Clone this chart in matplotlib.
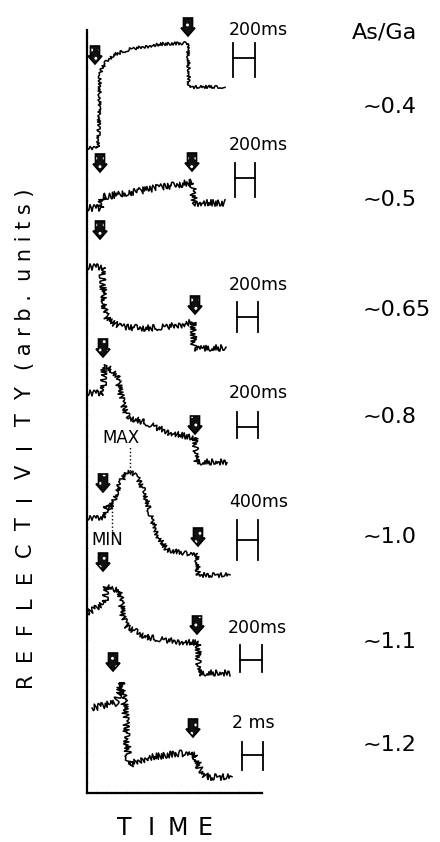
import matplotlib.pyplot as plt
from matplotlib.patches import Polygon

W, H = 440, 842

# As/Ga ratio for each trace, top to bottom
as_ga = ['~0.4', '~0.5', '~0.65', '~0.8', '~1.0', '~1.1', '~1.2']
scale_labels = ['200ms', '200ms', '200ms', '200ms', '400ms', '200ms', '2 ms']

# traces: time (arb.) vs reflectivity (arb., stacked)
t1 = [0, 11, 12, 13, 15, 19, 26, 43, 63, 76, 101, 102, 138]
r1 = [645, 645, 673, 718, 725, 731, 738, 744, 747, 749, 750, 706, 706]
t2 = [0, 14, 15, 106, 107, 138]
r2 = [585, 585, 596, 611, 590, 590]
t3 = [0, 15, 16, 18, 21, 33, 63, 93, 106, 107, 139]
r3 = [526, 526, 508, 481, 473, 466, 465, 468, 471, 445, 445]
t4 = [0, 16, 17, 20, 30, 36, 41, 60, 83, 108, 110, 140]
r4 = [400, 400, 425, 427, 418, 388, 376, 370, 360, 355, 331, 331]
t5 = [0, 18, 19, 23, 28, 33, 40, 43, 50, 58, 63, 71, 80, 110, 111, 143]
r5 = [275, 275, 288, 285, 295, 311, 320, 321, 316, 300, 280, 256, 243, 238, 218, 218]
t6 = [0, 18, 19, 24, 33, 36, 40, 60, 93, 111, 112, 143]
r6 = [180, 190, 206, 204, 203, 176, 166, 156, 151, 150, 120, 120]
t7 = [5, 28, 31, 35, 38, 40, 42, 46, 60, 93, 108, 113, 120, 145]
r7 = [85, 90, 96, 111, 86, 53, 28, 30, 35, 40, 38, 23, 16, 16]

times = [t1, t2, t3, t4, t5, t6, t7]
refl = [r1, r2, r3, r4, r5, r6, r7]

# light on / light off arrows (tip position)
arrows_on = [(8, 729), (13, 621), (13, 554), (16, 436), (16, 301), (16, 222), (26, 122)]
arrows_off = [(101, 757), (105, 622), (108, 479), (108, 359), (111, 247), (110, 159), (106, 56)]

# time scale bars: x0, x1, bottom, top, bar height
bars = [(146, 168, 716, 750, 735), (148, 168, 596, 630, 615), (150, 171, 461, 491, 476),
        (150, 171, 355, 381, 366), (150, 171, 233, 273, 253), (153, 175, 121, 148, 133),
        (155, 176, 23, 51, 38)]
label_pos = [(171, 763), (171, 648), (171, 508), (171, 400), (172, 291), (170, 165), (166, 70)]
ratio_y = [686, 593, 483, 376, 256, 151, 48]
noise = [1.6, 3.4, 3.2, 3.0, 2.4, 3.0, 3.4]

plt.rcParams['hatch.linewidth'] = 0.9

fig = plt.figure(figsize=(W / 100, H / 100), dpi=100)
ax = fig.add_axes([87 / W, 49 / H, 175 / W, 763 / H])
ax.set_xlim(0, 175)
ax.set_ylim(0, 763)
for s in ['top', 'right']:
    ax.spines[s].set_visible(False)
for s in ['left', 'bottom']:
    ax.spines[s].set_linewidth(1.6)
    ax.spines[s].set_linestyle((0, (4, 0.6)))
ax.set_xticks([])
ax.set_yticks([])

for t, r, n in zip(times, refl, noise):
    ln, = ax.plot(t, r, color='black', lw=1.1)
    ln.set_sketch_params(scale=n, length=1.2, randomness=5)


def arrow(x, y):
    shape = [(0, 0), (-7, 8), (-4.5, 8), (-4.5, 18), (4.5, 18), (4.5, 8), (7, 8)]
    pts = [(x + dx, y + dy) for dx, dy in shape]
    ax.add_patch(Polygon(pts, closed=True, fc='#111111', ec='white', hatch='..', lw=0, clip_on=False))
    ax.add_patch(Polygon(pts, closed=True, fill=False, ec='black', lw=1.2, clip_on=False))


for x, y in arrows_on + arrows_off:
    arrow(x, y)

for (x0, x1, lo, hi, yb), (lx, ly), lab in zip(bars, label_pos, scale_labels):
    ax.plot([x0, x0], [lo, hi], color='black', lw=1.3, clip_on=False)
    ax.plot([x1, x1], [lo, hi], color='black', lw=1.3, clip_on=False)
    ax.plot([x0, x1], [yb, yb], color='black', lw=1.3, clip_on=False)
    ax.text(lx, ly, lab, fontsize=12.5, ha='center', va='center')

ax.text(265, 761, 'As/Ga', fontsize=16, ha='left', va='center')
for lab, y in zip(as_ga, ratio_y):
    ax.text(276, y, lab, fontsize=16, ha='left', va='center')

# MAX / MIN markers on the 1.0 trace
ax.plot([43, 43], [322, 347], color='black', lw=1, ls=':')
ax.text(34, 355, 'MAX', fontsize=12, ha='center', va='center')
ax.plot([25, 25], [262, 285], color='black', lw=1, ls=':')
ax.text(20, 253, 'MIN', fontsize=12, ha='center', va='center')

# axis titles, letter spaced
for i, ch in enumerate('REFLECTIVITY'):
    fig.text(25 / W, 1 - (680 - 26 * i) / H, ch, fontsize=15, rotation=90, ha='center', va='center')
fig.text(25 / W, 1 - 370 / H, '( a r b .  u n i t s )', fontsize=15, rotation=90, ha='center', va='bottom')
for i, ch in enumerate('TIME'):
    fig.text((124 + 27 * i) / W, 1 - 828 / H, ch, fontsize=17, ha='center', va='center')

fig.savefig('out.png', dpi=100)
